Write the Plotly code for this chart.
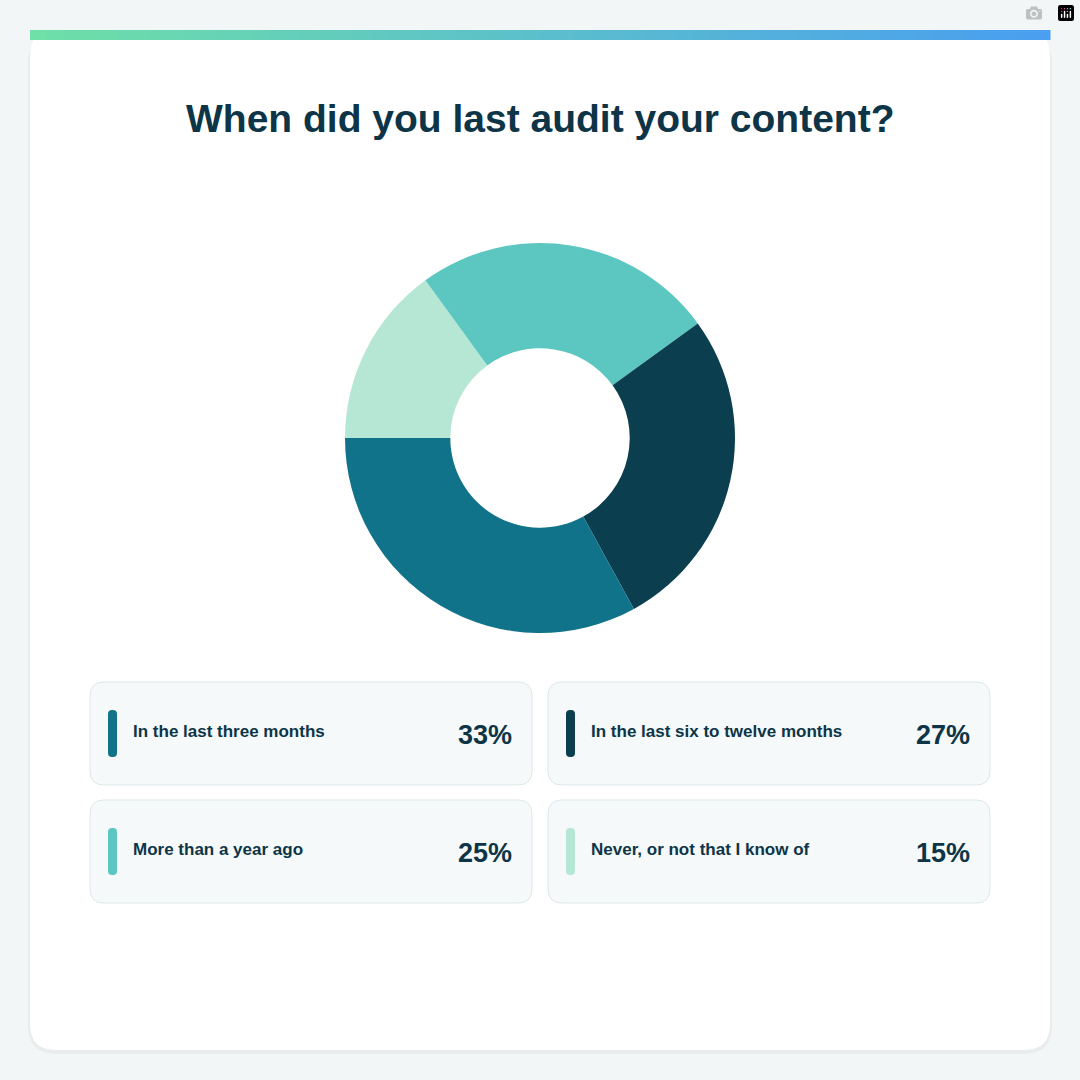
import plotly.graph_objects as go

labels = ["In the last three months", "In the last six to twelve months", "More than a year ago", "Never, or not that I know of"]
values = [33, 27, 25, 15]
colors = ["#11738a", "#0b3f50", "#5cc6c1", "#b5e7d4"]

W = H = 1080
def px(x): return x / W
def py(y): return 1 - y / H

def rrect(x0, y0, x1, y1, r):
    X0, X1 = px(x0), px(x1)
    Y0, Y1 = py(y0), py(y1)
    rx, ry = r / W, r / H
    return (f"M{X0+rx},{Y0} L{X1-rx},{Y0} Q{X1},{Y0} {X1},{Y0-ry} L{X1},{Y1+ry} "
            f"Q{X1},{Y1} {X1-rx},{Y1} L{X0+rx},{Y1} Q{X0},{Y1} {X0},{Y1+ry} "
            f"L{X0},{Y0-ry} Q{X0},{Y0} {X0+rx},{Y0} Z")

fig = go.Figure(go.Pie(
    labels=labels[::-1], values=values[::-1], hole=0.46, sort=False,
    direction="clockwise", rotation=270,
    marker=dict(colors=colors[::-1], line=dict(width=0)),
    textinfo="none", hoverinfo="label+percent",
    domain=dict(x=[px(345), px(735)], y=[py(633), py(243)]),
))

shapes = []
shapes.append(dict(type="path", xref="paper", yref="paper", path=rrect(28, 34, 1052, 1054, 28),
                   fillcolor="rgba(0,0,0,0.04)", line=dict(width=0), layer="below"))
shapes.append(dict(type="path", xref="paper", yref="paper", path=rrect(30, 30, 1050, 1050, 26),
                   fillcolor="white", line=dict(width=0), layer="below"))
c0 = (0x6e, 0xe0, 0xa8); c1 = (0x4a, 0x9f, 0xf0)
n = 60
for i in range(n):
    t = i / (n - 1)
    c = tuple(int(c0[k] + (c1[k] - c0[k]) * t) for k in range(3))
    xa = 30 + 1020 * i / n
    xb = 30 + 1020 * (i + 1) / n + 0.5
    shapes.append(dict(type="rect", xref="paper", yref="paper", x0=px(xa), x1=px(xb), y0=py(40), y1=py(30),
                       fillcolor="rgb(%d,%d,%d)" % c, line=dict(width=0)))

annotations = [dict(text="<b>When did you last audit your content?</b>", x=0.5, y=py(118), xref="paper", yref="paper",
                    showarrow=False, font=dict(size=39, color="#0d3547", family="Liberation Sans, Arial"),
                    xanchor="center", yanchor="middle")]

boxes = [(90, 682), (548, 682), (90, 800), (548, 800)]
for (bx, by), lab, v, col in zip(boxes, labels, values, colors):
    shapes.append(dict(type="path", xref="paper", yref="paper", path=rrect(bx, by, bx + 442, by + 103, 14),
                       fillcolor="#f5f9fa", line=dict(color="#dbe7e9", width=1)))
    shapes.append(dict(type="path", xref="paper", yref="paper", path=rrect(bx + 18, by + 28, bx + 27, by + 75, 4),
                       fillcolor=col, line=dict(width=0)))
    annotations.append(dict(text=f"<b>{lab}</b>", x=px(bx + 41), y=py(by + 49), xref="paper", yref="paper",
                            showarrow=False, xanchor="left", yanchor="middle",
                            font=dict(size=17, color="#0d3547", family="Liberation Sans, Arial")))
    annotations.append(dict(text=f"<b>{v}%</b>", x=px(bx + 424), y=py(by + 53), xref="paper", yref="paper",
                            showarrow=False, xanchor="right", yanchor="middle",
                            font=dict(size=27, color="#0d3547", family="Liberation Sans, Arial")))

fig.update_layout(width=W, height=H, margin=dict(l=0, r=0, t=0, b=0), showlegend=False,
                  paper_bgcolor="#f2f6f7", plot_bgcolor="#f2f6f7", shapes=shapes, annotations=annotations)
fig.write_html("out.html", post_script="document.body.style.margin='0';")
